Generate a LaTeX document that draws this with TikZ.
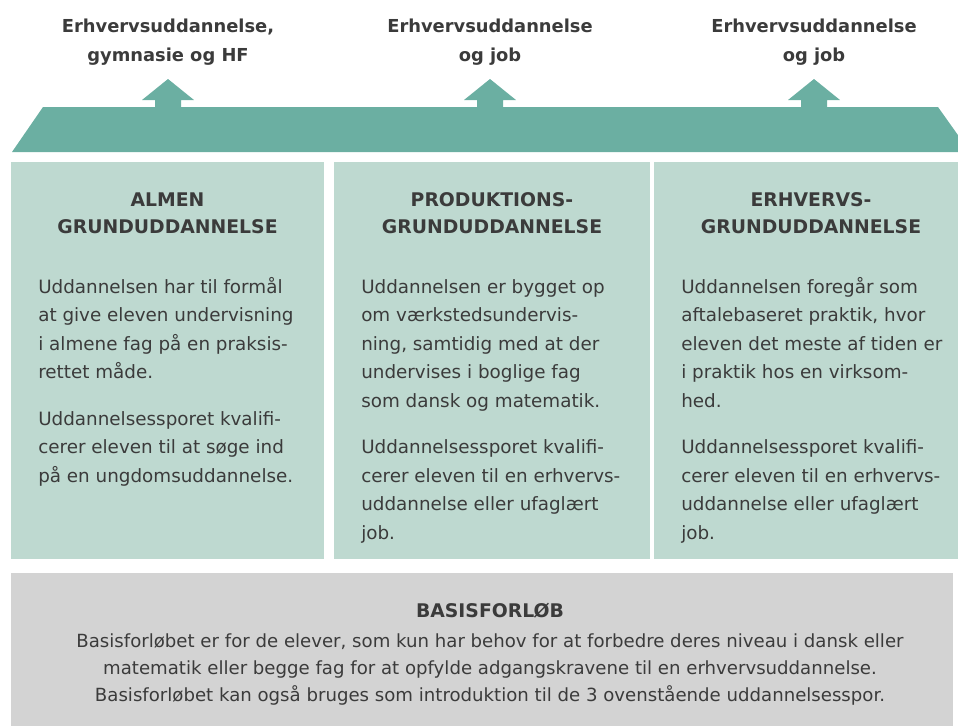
\documentclass[tikz,border=0pt]{standalone}
\usepackage{fontspec}
\setmainfont{DejaVu Sans}
\definecolor{band}{HTML}{6BAFA2}
\definecolor{light}{HTML}{BED9D0}
\definecolor{greybox}{HTML}{D3D3D3}
\definecolor{ink}{HTML}{3B3B3B}
\begin{document}
\begin{tikzpicture}[x=0.75pt,y=-0.75pt,
  lbl/.style={font=\bfseries\fontsize{13.4}{16}\selectfont, text=ink, inner sep=0, anchor=base},
  headtxt/.style={font=\bfseries\fontsize{14.1}{16}\selectfont, text=ink, inner sep=0, anchor=base},
  bodytxt/.style={font=\fontsize{13.75}{16}\selectfont, text=ink, inner sep=0, anchor=base west},
  basetxt/.style={font=\fontsize{13.6}{16}\selectfont, text=ink, inner sep=0, anchor=base}]
\useasboundingbox (0,0) rectangle (958,726);
% band with three arrows
\fill[band] (12,152) -- (43,107)
  -- (155,107) -- (155,100) -- (142,100) -- (168,79) -- (194,100) -- (181,100) -- (181,107)
  -- (477,107) -- (477,100) -- (464,100) -- (490,79) -- (516,100) -- (503,100) -- (503,107)
  -- (801,107) -- (801,100) -- (788,100) -- (814,79) -- (840,100) -- (827,100) -- (827,107)
  -- (938,107) -- (970,152) -- cycle;
% boxes
\fill[light] (11,162) rectangle (324,559);
\fill[light] (334,162) rectangle (650,559);
\fill[light] (654,162) rectangle (968,559);
\fill[greybox] (11,573) rectangle (953,726);
% top labels
\node[lbl] (t1a) at (168,32) {Erhvervsuddannelse,};
\node[lbl] (t1b) at (168,61) {gymnasie og HF};
\node[lbl] (t2a) at (490,32) {Erhvervsuddannelse};
\node[lbl] (t2b) at (490,61) {og job};
\node[lbl] (t3a) at (814,32) {Erhvervsuddannelse};
\node[lbl] (t3b) at (814,61) {og job};
% headings
\node[headtxt] (h1a) at (167.5,206.5) {ALMEN};
\node[headtxt] (h1b) at (167.5,233.5) {GRUNDUDDANNELSE};
\node[headtxt] (h2a) at (492,206.5) {PRODUKTIONS-};
\node[headtxt] (h2b) at (492,233.5) {GRUNDUDDANNELSE};
\node[headtxt] (h3a) at (811,206.5) {ERHVERVS-};
\node[headtxt] (h3b) at (811,233.5) {GRUNDUDDANNELSE};
% box 1 body
\foreach \t [count=\i from 0] in {{Uddannelsen har til formål},{at give eleven undervisning},{i almene fag på en praksis-},{rettet måde.}}
  \node[bodytxt] (b1p1-\i) at (38,{293+28.6*\i}) {\t};
\foreach \t [count=\i from 0] in {{Uddannelsessporet kvalifi-},{cerer eleven til at søge ind},{på en ungdomsuddannelse.}}
  \node[bodytxt] (b1p2-\i) at (38,{425+28.6*\i}) {\t};
% box 2 body
\foreach \t [count=\i from 0] in {{Uddannelsen er bygget op},{om værkstedsundervis-},{ning, samtidig med at der},{undervises i boglige fag},{som dansk og matematik.}}
  \node[bodytxt] (b2p1-\i) at (361,{293+28.6*\i}) {\t};
\foreach \t [count=\i from 0] in {{Uddannelsessporet kvalifi-},{cerer eleven til en erhvervs-},{uddannelse eller ufaglært},{job.}}
  \node[bodytxt] (b2p2-\i) at (361,{453.6+28.6*\i}) {\t};
% box 3 body
\foreach \t [count=\i from 0] in {{Uddannelsen foregår som},{aftalebaseret praktik, hvor},{eleven det meste af tiden er},{i praktik hos en virksom-},{hed.}}
  \node[bodytxt] (b3p1-\i) at (681,{293+28.6*\i}) {\t};
\foreach \t [count=\i from 0] in {{Uddannelsessporet kvalifi-},{cerer eleven til en erhvervs-},{uddannelse eller ufaglært},{job.}}
  \node[bodytxt] (b3p2-\i) at (681,{453.6+28.6*\i}) {\t};
% basis
\node[headtxt] (bh) at (490,617) {BASISFORLØB};
\node[basetxt] (bl1) at (490,647) {Basisforløbet er for de elever, som kun har behov for at forbedre deres niveau i dansk eller};
\node[basetxt] (bl2) at (490,674) {matematik eller begge fag for at opfylde adgangskravene til en erhvervsuddannelse.};
\node[basetxt] (bl3) at (490,701) {Basisforløbet kan også bruges som introduktion til de 3 ovenstående uddannelsesspor.};
\end{tikzpicture}
\end{document}
